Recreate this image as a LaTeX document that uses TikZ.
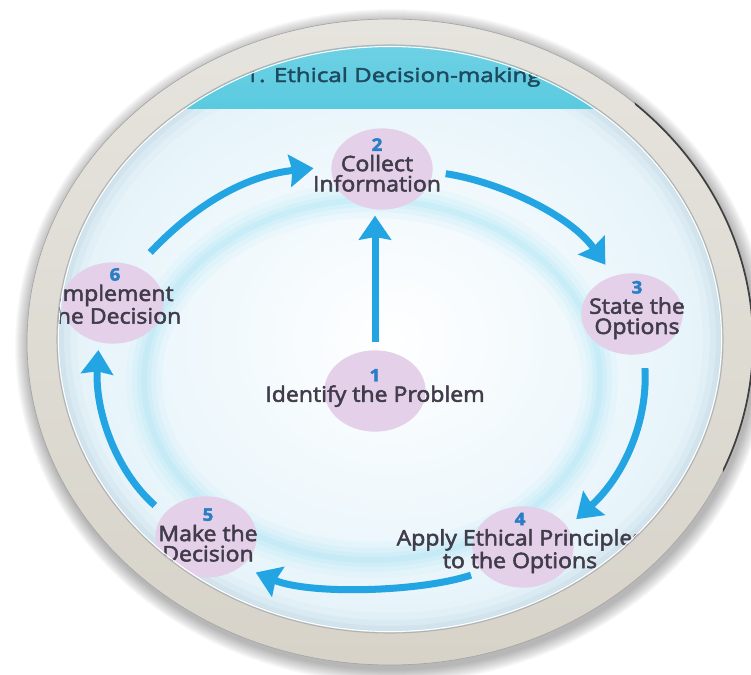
\documentclass[tikz,border=0pt]{standalone}
\usepackage{fontspec}
\setmainfont{Open Sans}
\newfontfamily\lblfont[FakeStretch=1.08, FakeBold=2.5]{Open Sans}
\newfontfamily\headfont[FakeStretch=1.25, FakeBold=2.5]{Open Sans}
\usetikzlibrary{shapes.geometric,arrows.meta,calc}

\definecolor{framelight}{HTML}{E6E4DE}
\definecolor{framedark}{HTML}{D7D3C9}
\definecolor{bandtop}{HTML}{7DD6E9}
\definecolor{bandbot}{HTML}{5ACADF}
\definecolor{paleblue}{HTML}{E4F3FA}
\definecolor{halo}{HTML}{9EE3F4}
\definecolor{bubblefill}{HTML}{E5D0EA}
\definecolor{flowblue}{HTML}{22A5E2}
\definecolor{txtgray}{HTML}{403C4A}
\definecolor{numblue}{HTML}{2C7EC4}
\definecolor{titlecol}{HTML}{1E4A5E}
\definecolor{rimshade}{HTML}{9FB4C6}

\tikzset{
  bubble/.style={shape=ellipse, fill=bubblefill, minimum width=76pt, minimum height=61pt,
    inner sep=0pt, outer sep=0pt},
  lbl/.style={font=\lblfont\fontsize{16}{15.2}\selectfont, text=txtgray, align=center, inner sep=0pt},
  flow/.style={draw=flowblue, line width=5.25pt,
    -{Stealth[length=18pt, width=24pt, inset=2pt]}},
}
\newcommand{\stepnum}[1]{{\fontsize{13}{13}\selectfont\bfseries\color{numblue}#1}}

\begin{document}
\begin{tikzpicture}[x=0.75pt, y=-0.75pt]
\useasboundingbox (0,0) rectangle (751,675);

% soft drop shadow around the frame
\foreach \k in {1,...,14}{
  \fill[black, opacity=0.022] (392,346) ellipse [x radius={363+\k}, y radius={323+\k}];
}

% dial face
\begin{scope}
  \clip (390,339) ellipse [x radius=333, y radius=294];
  \fill[white] (0,0) rectangle (751,675);
  \shade[inner color=white, outer color=paleblue] (390,339) ellipse [x radius=333, y radius=294];
  % glowing ring behind the cycle
  \foreach \w/\o in {36/0.09, 24/0.12, 14/0.16, 6/0.2}{
    \draw[halo, line width=\w*0.75pt, opacity=\o] (372,380) ellipse [x radius=228, y radius=180];
  }
  % rim shading just inside the frame
  \foreach \w/\o in {40/0.06, 26/0.08, 14/0.12, 5/0.18}{
    \draw[rimshade, line width=\w*0.75pt, opacity=\o] (390,339) ellipse [x radius=333, y radius=294];
  }
  % title band
  \shade[top color=bandtop, bottom color=bandbot] (0,0) rectangle (751,108);
  \node[anchor=base west, font=\headfont\fontsize{14.5}{15}\selectfont, text=titlecol, inner sep=0pt]
    (title) at (245,82) {1. Ethical Decision-making};

  % step bubbles
  \node[bubble] (n1) at (375,391) {};
  \node[bubble] (n2) at (382,169) {};
  \node[bubble] (n3) at (632,314) {};
  \node[bubble] (n4) at (523,547) {};
  \node[bubble] (n5) at (206,537) {};
  \node[bubble] (n6) at (113,303) {};

  % step texts
  \node[lbl] (t1) at ($(n1)+(0,-3)$) {\stepnum{1}\\Identify the Problem};
  \node[lbl] (t2) at ($(n2)+(-5,-4)$) {\stepnum{2}\\Collect\\Information};
  \node[lbl] (t3) at ($(n3)+(5,-4)$) {\stepnum{3}\\State the\\Options};
  \node[lbl] (t4) at ($(n4)+(-3,-4)$) {\stepnum{4}\\Apply Ethical Principles\\to the Options};
  \node[lbl] (t5) at ($(n5)+(2,-2)$) {\stepnum{5}\\Make the\\Decision};
  \node[lbl] (t6) at ($(n6)+(2,-7)$) {\stepnum{6}\\Implement\\the Decision};

  % cycle arrows
  \draw[flow, shorten <=15pt, shorten >=13.5pt]
    (n6.57) .. controls (200,200) and (250,175) .. (n2.177);
  \draw[flow, shorten <=10pt, shorten >=10.5pt]
    (n2.-3) .. controls (500,182) and (570,215) .. (n3.116);
  \draw[flow, shorten <=11pt, shorten >=9pt]
    (n3.-73) .. controls (648,420) and (625,475) .. (n4.24);
  \draw[flow, shorten <=9pt, shorten >=12pt]
    (n4.211) .. controls (420,592) and (310,595) .. (n5.-40);
  \draw[flow, shorten <=9.5pt, shorten >=6pt]
    (n5.151) .. controls (115,470) and (95,410) .. (n6.-110);
  \draw[flow, shorten <=6pt, shorten >=4.5pt]
    (n1.north) -- (n1.north |- n2.south);
\end{scope}

% frame ring
\shade[top color=framelight, bottom color=framedark, even odd rule]
  (390,342) ellipse [x radius=363, y radius=323]
  (390,339) ellipse [x radius=333, y radius=294];
\draw[black!35, line width=0.5pt] (390,342) ellipse [x radius=363, y radius=323];
\draw[black!30, line width=0.8pt] (390,339) ellipse [x radius=333, y radius=294];
\draw[white, line width=0.8pt] (390,339) ellipse [x radius=331.5, y radius=292.5];
% darker outer edge on the upper right
\begin{scope}
  \clip (610,0) -- (751,0) -- (751,520) -- (735,520) -- cycle;
  \draw[black!75, line width=1.3pt] (390,342) ellipse [x radius=363, y radius=323];
\end{scope}
\end{tikzpicture}
\end{document}
